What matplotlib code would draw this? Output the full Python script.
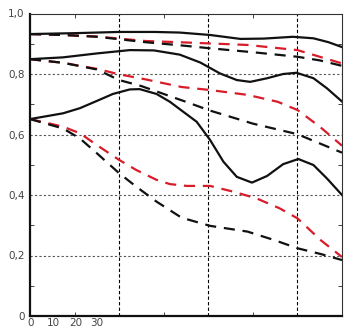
import matplotlib
matplotlib.use("Agg")
import matplotlib.pyplot as plt
from matplotlib.ticker import MultipleLocator, FixedLocator

# MTF curves: positions along the image height (mm) and contrast values.
# Black = reference aperture, red = comparison aperture.
top_solid_x = [0, 5, 10, 14, 16.8, 20.2, 23.6, 26.2, 29.5, 31.8, 33.5, 35]
top_solid_y = [0.932, 0.935, 0.939, 0.939, 0.937, 0.929, 0.916, 0.917, 0.923, 0.918, 0.905, 0.889]
top_dash_x = [0, 3.7, 7.5, 10, 13, 16.8, 20.2, 25, 30, 32.5, 35]
top_dash_y = [0.932, 0.929, 0.923, 0.915, 0.905, 0.895, 0.885, 0.872, 0.857, 0.845, 0.827]
top_red_x = [0, 3.7, 7.5, 10, 13, 16.8, 20.2, 24.4, 30, 32.5, 35]
top_red_y = [0.932, 0.929, 0.924, 0.917, 0.909, 0.905, 0.901, 0.896, 0.879, 0.857, 0.835]

mid_solid_x = [0, 3.7, 7.5, 11.2, 13.9, 16.8, 19.1, 21.3, 23.2, 24.7, 26.6, 28.4, 29.9, 31.8, 33.3, 35]
mid_solid_y = [0.849, 0.855, 0.868, 0.879, 0.878, 0.864, 0.838, 0.802, 0.780, 0.774, 0.786, 0.800, 0.804, 0.786, 0.753, 0.709]
mid_dash_x = [0, 3.7, 7.5, 10, 12.5, 15, 17.5, 20.2, 25, 30, 35]
mid_dash_y = [0.849, 0.837, 0.815, 0.780, 0.760, 0.734, 0.708, 0.679, 0.636, 0.601, 0.540]
mid_red_x = [0, 3.7, 7.5, 10, 13, 17, 20.2, 24.4, 27.8, 30, 32.5, 35]
mid_red_y = [0.849, 0.837, 0.817, 0.799, 0.782, 0.757, 0.747, 0.731, 0.708, 0.681, 0.626, 0.563]

low_solid_x = [0, 3.7, 5.6, 7.5, 9.3, 11.2, 12.3, 14.2, 15.7, 17.2, 18.7, 20.2, 21.7,
               23.2, 24.9, 26.6, 28.4, 30.1, 31.8, 33.3, 35]
low_solid_y = [0.651, 0.670, 0.687, 0.711, 0.734, 0.749, 0.750, 0.734, 0.708, 0.675, 0.642,
               0.582, 0.510, 0.460, 0.441, 0.463, 0.502, 0.519, 0.499, 0.455, 0.400]
low_dash_x = [0, 3.7, 5.6, 7.5, 10, 11.9, 14.2, 17, 20.2, 24.4, 27.4, 30, 32.6, 35]
low_dash_y = [0.651, 0.620, 0.587, 0.538, 0.472, 0.428, 0.378, 0.325, 0.298, 0.279, 0.251, 0.224, 0.205, 0.185]
low_red_x = [0, 3.7, 5.6, 7.5, 10, 11.9, 14.2, 15.7, 17.6, 20.2, 22.8, 25.4, 28, 30, 32.6, 35]
low_red_y = [0.651, 0.626, 0.604, 0.565, 0.516, 0.483, 0.450, 0.436, 0.430, 0.430, 0.411,
             0.389, 0.356, 0.323, 0.251, 0.195]

xlabels = ["0", "10", "20", "30"]
ylabels = ["0", "0,2", "0,4", "0,6", "0,8", "1,0"]
yticks = [0, 0.2, 0.4, 0.6, 0.8, 1.0]
xgrid = [10, 20, 30]

fig = plt.figure(figsize=(3.48, 3.29), dpi=100)
ax = fig.add_axes([30/348, 13/329, 312/348, 302.5/329])
ax.set_xlim(0, 35)
ax.set_ylim(0, 1.0)

# grid
for gy in yticks[1:-1]:
    ax.axhline(gy, color="#555555", lw=0.8, ls=(0, (2, 2)), zorder=1)
for gx in xgrid:
    ax.axvline(gx, color="black", lw=0.8, ls=(0, (3, 2)), zorder=1)

dash = (0, (5, 3.5))
black = "#111111"
red = "#d81c2a"
kw = dict(lw=1.6, solid_joinstyle="round", dash_joinstyle="round")
ax.plot(top_red_x, top_red_y, color=red, ls=dash, zorder=3, **kw)
ax.plot(mid_red_x, mid_red_y, color=red, ls=dash, zorder=3, **kw)
ax.plot(low_red_x, low_red_y, color=red, ls=dash, zorder=3, **kw)
ax.plot(top_dash_x, top_dash_y, color=black, ls=dash, zorder=4, **kw)
ax.plot(mid_dash_x, mid_dash_y, color=black, ls=dash, zorder=4, **kw)
ax.plot(low_dash_x, low_dash_y, color=black, ls=dash, zorder=4, **kw)
ax.plot(top_solid_x, top_solid_y, color=black, zorder=5, **kw)
ax.plot(mid_solid_x, mid_solid_y, color=black, zorder=5, **kw)
ax.plot(low_solid_x, low_solid_y, color=black, zorder=5, **kw)

# ticks
ax.xaxis.set_major_locator(FixedLocator([]))
ax.xaxis.set_minor_locator(FixedLocator([5, 15, 25]))
ax.set_yticks(yticks)
ax.set_yticklabels(ylabels, color="#444444", fontsize=7.5)
ax.yaxis.set_minor_locator(MultipleLocator(0.1))
ax.tick_params(axis="y", which="major", length=0, pad=4)
ax.tick_params(axis="both", which="minor", direction="in", length=3, width=0.7,
               color="#444444", top=True, right=True)

for side in ["left", "bottom"]:
    ax.spines[side].set_linewidth(1.6)
    ax.spines[side].set_color("#111111")
for side in ["top", "right"]:
    ax.spines[side].set_linewidth(0.8)
    ax.spines[side].set_color("#333333")

# x labels, set closely under the left end of the axis
for lab, px in zip(xlabels, [30.7, 53, 76, 97]):
    fig.text(px/348, 1 - 323/329, lab, ha="center", va="center",
             fontsize=7.5, color="#444444")

fig.savefig("out.png", dpi=100)
